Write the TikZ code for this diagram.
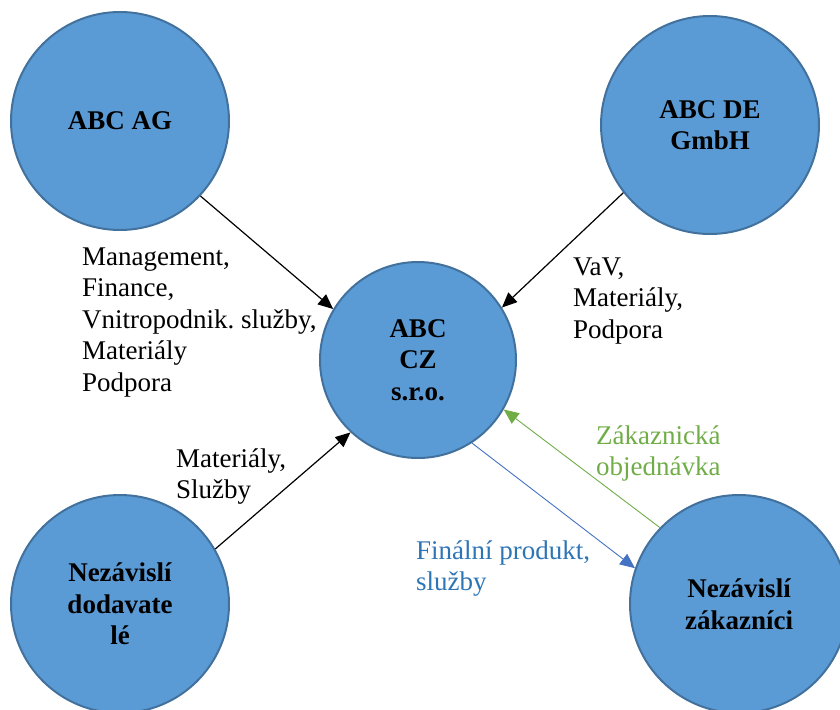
\documentclass[tikz,border=0pt]{standalone}
\usepackage{fontspec}
\setmainfont{Liberation Serif}
\usetikzlibrary{arrows.meta}
\frenchspacing
\definecolor{cfill}{HTML}{5B9BD5}
\definecolor{cborder}{HTML}{41719C}
\definecolor{cgreen}{HTML}{70AD47}
\definecolor{cbluetext}{HTML}{2E75B6}
\definecolor{cblueline}{HTML}{4472C4}
\tikzset{
  ent/.style={circle, draw=cborder, line width=2pt, fill=cfill, align=center,
    font=\fontsize{27}{31.5}\selectfont\bfseries, inner sep=0pt},
  big/.style={ent, minimum size=218pt},
  small/.style={ent, minimum size=196pt},
  lbl/.style={anchor=base west, inner sep=0pt, font=\fontsize{27}{31.5}\selectfont},
  flow/.style={line width=1.2pt, -{Triangle[length=15pt,width=13pt]}},
  thinflow/.style={line width=0.9pt, -{Triangle[length=15pt,width=13pt]}}
}
\begin{document}
\begin{tikzpicture}[x=1pt,y=-1pt]
\useasboundingbox (0,0) rectangle (840,709);
\node[big] (ag) at (120,121) {ABC AG};
\node[big] (de) at (710,125) {ABC DE\\GmbH};
\node[small] (cz) at (418,360) {ABC\\CZ\\s.r.o.};
\node[big] (dod) at (120,604) {Nezávislí\\dodavate\\lé};
\node[big] (zak) at (739,604) {Nezávislí\\zákazníci};

\draw[flow] (ag.-43) -- (cz.149);
\draw[flow] (de.218) -- (cz.32);
\draw[flow] (dod.30) -- (cz.227);
\draw[thinflow, cblueline] (cz.-57) -- (zak.161);
\draw[thinflow, cgreen] (zak.136) -- (cz.-30);

\node[lbl] (lag) at (82,265) {\vtop{\hbox{Management,}\hbox{Finance,}\hbox{Vnitropodnik. služby,}\hbox{Materiály}\hbox{Podpora}}};
\node[lbl] (lde) at (573,275) {\vtop{\hbox{VaV,}\hbox{Materiály,}\hbox{Podpora}}};
\node[lbl] (ldod) at (176,467) {\vtop{\hbox{Materiály,}\hbox{Služby}}};
\node[lbl, text=cgreen] (lgreen) at (596,444) {\vtop{\hbox{Zákaznická}\hbox{objednávka}}};
\node[lbl, text=cbluetext] (lblue) at (416,559) {\vtop{\hbox{Finální produkt,}\hbox{služby}}};
\end{tikzpicture}
\end{document}
